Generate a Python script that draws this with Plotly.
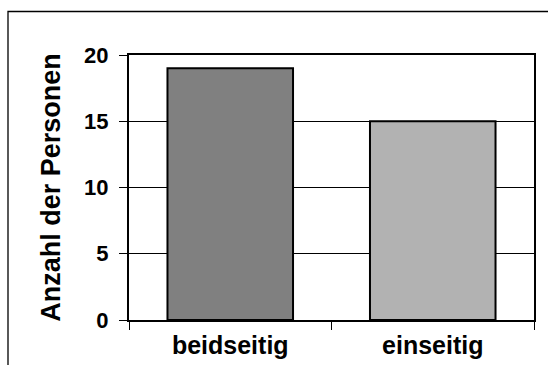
import plotly.graph_objects as go

categories = ["beidseitig", "einseitig"]
values = [19, 15]
bar_colors = ["#808080", "#b2b2b2"]
y_ticks = [0, 5, 10, 15, 20]
y_title = "Anzahl der Personen"

FONT = "Liberation Sans, Arial, sans-serif"

fig = go.Figure(
    go.Bar(
        x=categories,
        y=values,
        marker=dict(color=bar_colors, line=dict(color="black", width=2)),
        width=0.62,
        hoverinfo="skip",
    )
)

L, R, T, B = 129, 14, 55, 45
W, H = 548, 365
pw, ph = W - L - R, H - T - B

fig.update_layout(
    width=W,
    height=H,
    margin=dict(l=L, r=R, t=T, b=B, pad=0, autoexpand=False),
    paper_bgcolor="white",
    plot_bgcolor="white",
    showlegend=False,
    bargap=0.38,
    font=dict(family=FONT, color="black"),
    shapes=[
        dict(
            type="rect",
            xref="paper",
            yref="paper",
            x0=(8 - L) / pw,
            x1=(W + 10 - L) / pw,
            y0=(T + ph - (H + 10)) / ph,
            y1=(T + ph - 11.5) / ph,
            line=dict(color="black", width=1.3),
            fillcolor="rgba(0,0,0,0)",
            layer="below",
        )
    ],
)

fig.update_yaxes(
    automargin=False,
    range=[0, 20],
    tickvals=y_ticks,
    ticks="outside",
    ticklen=8,
    tickwidth=1,
    tickcolor="black",
    showgrid=True,
    gridcolor="black",
    gridwidth=1,
    showline=True,
    linecolor="black",
    linewidth=2,
    mirror=True,
    zeroline=False,
    tickfont=dict(family=FONT, size=22, color="black", weight="bold"),
    ticklabelstandoff=6,
    title=dict(
        text=y_title,
        font=dict(family=FONT, size=27, color="black", weight="bold"),
        standoff=16,
    ),
)

fig.update_xaxes(
    automargin=False,
    ticks="outside",
    tickson="boundaries",
    ticklen=8,
    tickwidth=1,
    tickcolor="black",
    showline=True,
    linecolor="black",
    linewidth=2,
    mirror=True,
    showgrid=False,
    tickfont=dict(family=FONT, size=25, color="black", weight="bold"),
    ticklabelstandoff=2,
)

fig.write_html(
    "out.html",
    config={"displayModeBar": False, "staticPlot": True},
    post_script="document.body.style.margin='0';document.body.style.padding='0';",
)
